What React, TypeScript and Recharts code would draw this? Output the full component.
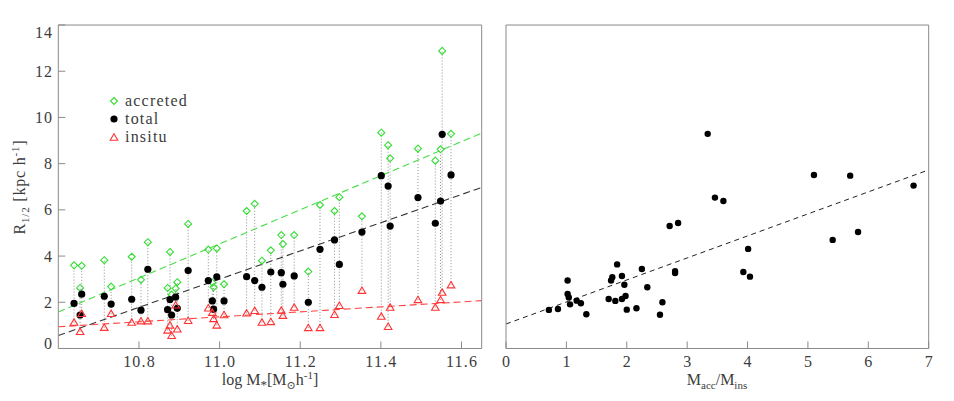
import React from "react";
import { ComposedChart, Scatter, Line, XAxis, YAxis, Legend } from "recharts";

// left panel: one entry per galaxy
const logMass = [10.639, 10.654, 10.658, 10.714, 10.731, 10.782, 10.805, 10.822, 10.871, 10.877, 10.881, 10.891, 10.895, 10.922, 10.972, 10.982, 10.985, 10.993, 11.011, 11.067, 11.087, 11.105, 11.127, 11.153, 11.157, 11.185, 11.22, 11.249, 11.285, 11.297, 11.353, 11.401, 11.418, 11.423, 11.492, 11.535, 11.548, 11.552, 11.574];
const rAccreted = [3.6, 2.62, 3.58, 3.82, 2.68, 3.97, 2.97, 4.6, 2.62, 4.18, 2.33, 2.6, 2.87, 5.39, 4.28, 2.85, 2.65, 4.33, 2.78, 5.95, 6.26, 3.8, 4.25, 4.91, 4.52, 4.91, 3.33, 6.21, 5.95, 6.55, 5.72, 9.34, 8.8, 8.23, 8.65, 8.13, 8.62, 12.88, 9.29];
const rTotal = [1.95, 1.45, 2.35, 2.26, 1.92, 2.13, 1.66, 3.43, 1.68, 2.12, 1.45, 2.22, 1.74, 3.37, 2.94, 2.06, 1.7, 3.1, 2.06, 3.11, 2.94, 2.65, 3.31, 3.28, 2.78, 3.14, 2.0, 4.29, 4.7, 3.64, 5.04, 7.48, 7.03, 5.3, 6.53, 5.42, 6.38, 9.27, 7.51];
const rInsitu = [1.12, 0.72, 1.5, 0.9, 1.5, 1.12, 1.18, 1.18, 0.78, 1.0, 0.55, 1.87, 0.83, 1.2, 1.74, 1.55, 1.28, 1.0, 1.45, 1.52, 1.63, 1.12, 1.15, 1.64, 1.42, 1.77, 0.89, 0.89, 1.46, 1.85, 2.5, 1.38, 0.94, 1.77, 2.1, 1.77, 2.1, 2.42, 2.74];

// fit lines (end points)
const fitMass = [10.6, 11.65];
const accretedFit = [1.58, 9.32];
const totalFit = [0.56, 6.97];
const insituFit = [0.94, 2.07];

// right panel
const massRatio = [0.71, 0.86, 1.02, 1.02, 1.04, 1.06, 1.17, 1.24, 1.33, 1.7, 1.74, 1.76, 1.84, 1.81, 1.92, 1.92, 1.96, 1.98, 2.0, 2.16, 2.25, 2.34, 2.55, 2.59, 2.71, 2.85, 2.8, 2.8, 3.34, 3.46, 3.6, 3.93, 4.01, 4.04, 5.1, 5.41, 5.7, 5.83, 6.75];
const ratioTotal = [1.67, 1.71, 2.94, 2.36, 2.21, 1.91, 2.07, 1.96, 1.48, 2.14, 2.94, 3.08, 3.64, 2.06, 2.14, 3.14, 2.76, 2.27, 1.68, 1.74, 3.44, 2.65, 1.46, 2.0, 5.3, 5.43, 3.35, 3.27, 9.29, 6.53, 6.38, 3.31, 4.31, 3.11, 7.51, 4.7, 7.48, 5.04, 7.05];
const ratioFitX = [0, 7];
const ratioFitY = [1.06, 7.73];

// ticks
const massTicks = [10.8, 11.0, 11.2, 11.4, 11.6];
const ratioTicks = [0, 1, 2, 3, 4, 5, 6, 7];
const radiusTicks = [0, 2, 4, 6, 8, 10, 12, 14];
const legendOrder = ["accreted", "total", "insitu"];

const FRAME = "#8a8a8a";
const TEXT = "#3c3c3c";
const GREEN = "#33dd33";
const RED = "#ff3333";
const FONT = '"Liberation Serif", "DejaVu Serif", serif';
const THIN = 0.01; // axes need a non-zero size to be drawn

const steps = (from: number, to: number, step: number) => {
  const out: number[] = [];
  const n = Math.round((to - from) / step);
  for (let i = 0; i <= n; i++) out.push(+(from + i * step).toFixed(4));
  return out;
};

const pts = (xs: number[], ys: number[]) => xs.map((x, i) => ({ x, y: ys[i] }));

const accretedData = pts(logMass, rAccreted);
const totalData = pts(logMass, rTotal);
const insituData = pts(logMass, rInsitu);
// vertical dotted connectors, null breaks the line between galaxies
const connectorData = logMass.flatMap((x, i) => {
  const vals = [rAccreted[i], rTotal[i], rInsitu[i]];
  return [
    { x, y: Math.min(...vals) },
    { x, y: Math.max(...vals) },
    { x, y: null as number | null },
  ];
});

const Diamond = (props: any) => {
  const { cx, cy } = props;
  const s = 3.5;
  return <polygon points={`${cx},${cy - s} ${cx + s},${cy} ${cx},${cy + s} ${cx - s},${cy}`} fill="none" stroke={GREEN} strokeWidth={1.1} />;
};
const Dot = (props: any) => <circle cx={props.cx} cy={props.cy} r={3.6} fill="#000" />;
const Triangle = (props: any) => {
  const { cx, cy } = props;
  return <polygon points={`${cx},${cy - 3.7} ${cx + 3.8},${cy + 2.7} ${cx - 3.8},${cy + 2.7}`} fill="none" stroke={RED} strokeWidth={1.1} />;
};

const legendMarkers: Record<string, any> = {
  accreted: <Diamond cx={6} cy={6} />,
  total: <Dot cx={6} cy={6} />,
  insitu: <Triangle cx={6} cy={6.5} />,
};

const renderLegend = (props: any) => {
  const names = (props.payload || []).map((p: any) => p.value);
  const items = legendOrder.filter((n) => names.includes(n));
  return (
    <div style={{ fontFamily: FONT, fontSize: 16, color: TEXT, letterSpacing: 1.2 }}>
      {items.map((name) => (
        <div key={name} style={{ display: "flex", alignItems: "center", height: 18 }}>
          <svg width={12} height={12}>{legendMarkers[name]}</svg>
          <span style={{ marginLeft: 5 }}>{name}</span>
        </div>
      ))}
    </div>
  );
};

const YTickLabel = (props: any) => {
  const { x, y, payload } = props;
  const v = payload.value;
  const shift = v === 14 ? 7 : v === 0 ? -5 : 0;
  return (
    <text x={x} y={y + shift} textAnchor="end" dominantBaseline="central" fill={TEXT} fontSize={16} fontFamily={FONT} letterSpacing={1.2}>
      {v}
    </text>
  );
};

const makeXTick = (digits: number) => (props: any) => {
  const { x, y, payload } = props;
  return (
    <text x={x + 0.6} y={y} dy="0.71em" textAnchor="middle" fill={TEXT} fontSize={16} fontFamily={FONT} letterSpacing={1.2}>
      {payload.value.toFixed(digits)}
    </text>
  );
};

// IDL-style box: inward major/minor ticks on all four sides
function frameAxes(xDomain: number[], xMajor: number[], xMinor: number[], xTick: any, yTick: any) {
  const base = { type: "number" as const, allowDataOverflow: true, interval: 0 as const };
  const yDomain = [0, 14];
  const yMinor = steps(0, 14, 0.5);
  const line = { stroke: FRAME };
  return [
    <XAxis key="xbm" xAxisId="bm" {...base} domain={xDomain} ticks={xMinor} height={THIN} tick={false} axisLine={false} tickSize={-4} tickLine={line} />,
    <XAxis key="xtm" xAxisId="tm" orientation="top" {...base} domain={xDomain} ticks={xMinor} height={THIN} tick={false} axisLine={false} tickSize={-4} tickLine={line} />,
    <XAxis key="xt" xAxisId="t" orientation="top" {...base} domain={xDomain} ticks={xMajor} height={THIN} tick={false} axisLine={line} tickSize={-7} tickLine={line} />,
    <YAxis key="ylm" yAxisId="lm" {...base} domain={yDomain} ticks={yMinor} width={THIN} tick={false} axisLine={false} tickSize={-4} tickLine={line} />,
    <YAxis key="yrm" yAxisId="rm" orientation="right" {...base} domain={yDomain} ticks={yMinor} width={THIN} tick={false} axisLine={false} tickSize={-4} tickLine={line} />,
    <YAxis key="yr" yAxisId="r" orientation="right" {...base} domain={yDomain} ticks={radiusTicks} width={THIN} tick={false} axisLine={line} tickSize={-7} tickLine={line} />,
    <XAxis key="x" xAxisId="main" dataKey="x" {...base} domain={xDomain} ticks={xMajor} height={THIN} tick={xTick} tickMargin={14} axisLine={line} tickSize={-7} tickLine={line} />,
    <YAxis key="y" yAxisId="main" dataKey="y" {...base} domain={yDomain} ticks={radiusTicks} width={THIN} tick={yTick} tickMargin={12} axisLine={line} tickSize={-7} tickLine={line} />,
  ];
}

export default function App() {
  const ids = { xAxisId: "main", yAxisId: "main", isAnimationActive: false };
  return (
    <div style={{ position: "absolute", left: 0, top: 0, width: 954, height: 401, background: "#fff", fontFamily: FONT, color: TEXT }}>
      <div style={{ position: "absolute", left: 0, top: 0 }}>
        <ComposedChart width={490} height={401} margin={{ top: 25, right: 8.3, bottom: 52.5, left: 58.3 }}>
          {frameAxes([10.6, 11.65], massTicks, steps(10.6, 11.65, 0.05), makeXTick(1), <YTickLabel />)}
          <Line {...ids} data={connectorData} dataKey="y" stroke="#8f8f8f" strokeWidth={1} strokeDasharray="1 2" dot={false} legendType="none" />
          <Line {...ids} data={pts(fitMass, accretedFit)} dataKey="y" stroke="#44dd44" strokeWidth={1.1} strokeDasharray="7 4" dot={false} legendType="none" />
          <Line {...ids} data={pts(fitMass, totalFit)} dataKey="y" stroke="#333" strokeWidth={1.1} strokeDasharray="7 4" dot={false} legendType="none" />
          <Line {...ids} data={pts(fitMass, insituFit)} dataKey="y" stroke="#ff4444" strokeWidth={1.1} strokeDasharray="7 4" dot={false} legendType="none" />
          <Scatter {...ids} name="accreted" data={accretedData} shape={<Diamond />} />
          <Scatter {...ids} name="total" data={totalData} shape={<Dot />} />
          <Scatter {...ids} name="insitu" data={insituData} shape={<Triangle />} />
          <Legend layout="vertical" align="center" verticalAlign="middle" content={renderLegend} wrapperStyle={{ left: 108, top: 92, width: 110, height: 56 }} />
        </ComposedChart>
      </div>
      <div style={{ position: "absolute", left: 490, top: 0 }}>
        <ComposedChart width={464} height={401} margin={{ top: 25, right: 25.3, bottom: 52.5, left: 16 }}>
          {frameAxes([0, 7], ratioTicks, steps(0, 7, 0.1), makeXTick(0), false)}
          <Line {...ids} data={pts(ratioFitX, ratioFitY)} dataKey="y" stroke="#222" strokeWidth={1} strokeDasharray="5 4" dot={false} legendType="none" />
          <Scatter {...ids} name="total" data={pts(massRatio, ratioTotal)} shape={(p: any) => <circle cx={p.cx} cy={p.cy} r={3.2} fill="#000" />} />
        </ComposedChart>
      </div>
      {/* axis titles */}
      <div style={{ position: "absolute", left: 20, top: 187, transform: "translate(-50%, -50%) rotate(-90deg)", whiteSpace: "nowrap", fontSize: 16, letterSpacing: 0.8 }}>
        R<sub style={{ fontSize: 11 }}>1/2</sub> [kpc h<sup style={{ fontSize: 11 }}>-1</sup>]
      </div>
      <div style={{ position: "absolute", left: 270, top: 381, transform: "translate(-50%, -50%)", whiteSpace: "nowrap", fontSize: 16 }}>
        log M<sub style={{ fontSize: 13 }}>*</sub>[M<sub style={{ fontSize: 11 }}>⊙</sub>h<sup style={{ fontSize: 11 }}>-1</sup>]
      </div>
      <div style={{ position: "absolute", left: 717, top: 381, transform: "translate(-50%, -50%)", whiteSpace: "nowrap", fontSize: 16 }}>
        M<sub style={{ fontSize: 11 }}>acc</sub>/M<sub style={{ fontSize: 11 }}>ins</sub>
      </div>
    </div>
  );
}
